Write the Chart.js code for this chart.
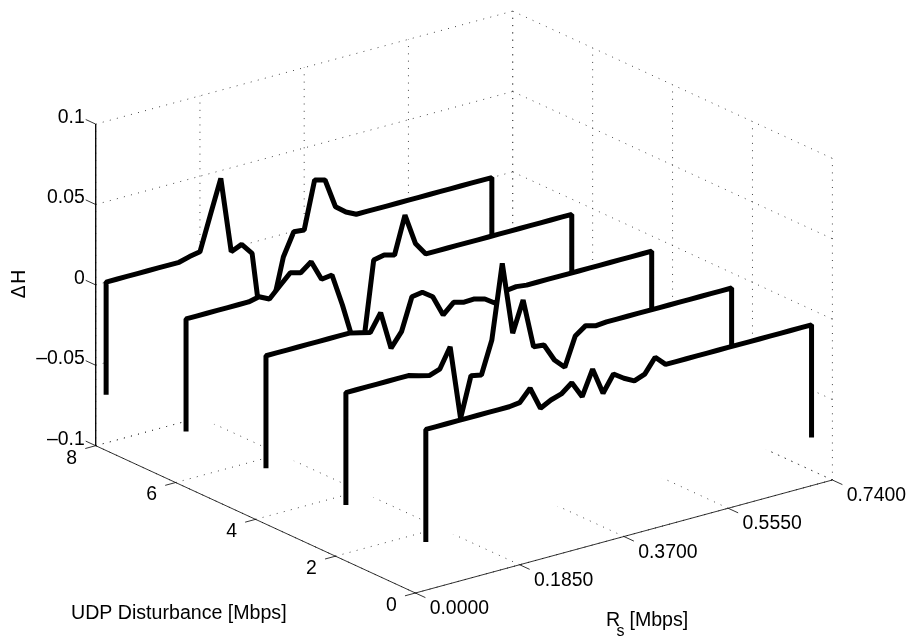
<!DOCTYPE html>
<html>
<head>
<meta charset="utf-8">
<title>Delta H waterfall</title>
<script src="https://cdn.jsdelivr.net/npm/chart.js@4"></script>
<style>
  html, body { margin: 0; padding: 0; background: #fff; }
  canvas { display: block; }
</style>
</head>
<body>
<canvas id="myChart" width="915" height="642"></canvas>
<script>
var rsValues = [0.0185, 0.037, 0.0555, 0.074, 0.0925, 0.111, 0.1295, 0.148, 0.1665, 0.185,
  0.2035, 0.222, 0.2405, 0.259, 0.2775, 0.296, 0.3145, 0.333, 0.3515, 0.37,
  0.3885, 0.407, 0.4255, 0.444, 0.4625, 0.481, 0.4995, 0.518, 0.5365, 0.555,
  0.5735, 0.592, 0.6105, 0.629, 0.6475, 0.666, 0.6845, 0.703];

var udpLevels = [0, 2, 4, 6, 8];

var dhUdp0 = [0, 0, 0, 0, 0, 0, 0, 0, 0, 0.0008,
  0.008, -0.0062, -0.0028, -0.0008, 0.0044, -0.006, 0.0093, -0.0074, 0.0028, -0.0016,
  -0.005, -0.0025, 0.0062, 0, 0, 0, 0, 0, 0, 0,
  0, 0, 0, 0, 0, 0, 0, 0];
var dhUdp2 = [0, 0, 0, 0, 0, 0, 0, -0.0018, -0.0035, -0.0013,
  0.0109, -0.0354, -0.0106, -0.0119, 0.0081, 0.054, 0.0088, 0.0277, -0.0031, -0.0038,
  -0.0149, -0.0212, -0.0035, 0.0012, -0.0006, 0, 0, 0, 0, 0,
  0, 0, 0, 0, 0, 0, 0, 0];
var dhUdp4 = [0, 0, 0, 0, 0, 0, 0, 0, 0, -0.0015,
  -0.0032, 0.0075, -0.0164, -0.0079, 0.0121, 0.0131, 0.0086, -0.0045, 0.0016, -0.0001,
  0.0002, -0.0016, -0.006, 0, 0.0008, 0, 0, 0, 0, 0,
  0, 0, 0, 0, 0, 0, 0, 0];
var dhUdp6 = [0, 0, 0, 0, 0, 0, 0, 0.0015, -0.0017, 0.0048,
  0.0111, 0.0094, 0.0145, 0.0018, 0.0027, -0.0177, -0.041, -0.046, 0.005, 0.0063,
  0.0046, 0.0277, 0.0083, 0, 0, 0, 0, 0, 0, 0,
  0, 0, 0, 0, 0, 0, 0, 0];
var dhUdp8 = [0, 0, 0, 0, 0, 0, 0, 0, 0.0018, 0.003,
  0.0242, 0.0452, -0.0022, 0.0006, -0.0067, -0.06, -0.042, -0.0143, -0.0003, -0.001,
  0.0284, 0.0266, 0.0082, 0.0032, 0, 0, 0, 0, 0, 0,
  0, 0, 0, 0, 0, 0, 0, 0];
var dhSeries = [dhUdp0, dhUdp2, dhUdp4, dhUdp6, dhUdp8];
var curtainBottom = -0.07;

var rsTicks = [0, 0.185, 0.37, 0.555, 0.74];
var rsTickLabels = ['0.0000', '0.1850', '0.3700', '0.5550', '0.7400'];
var udpTicks = [0, 2, 4, 6, 8];
var udpTickLabels = ['0', '2', '4', '6', '8'];
var dhTicks = [-0.1, -0.05, 0, 0.05, 0.1];
var dhTickLabels = ['\u20130.1', '\u20130.05', '0', '0.05', '0.1'];

// view of the box
function project(rs, udp, dh) {
  return {
    x: 415.4 + rs / 0.74 * 417 - udp / 8 * 319.7,
    y: 593 - rs / 0.74 * 113 - udp / 8 * 147.3 - (dh + 0.1) / 0.2 * 321.6
  };
}

function gridLine(a, b) {
  return {
    data: [project(a[0], a[1], a[2]), project(b[0], b[1], b[2])],
    showLine: true, fill: false, pointRadius: 0,
    borderColor: '#444', borderWidth: 1, borderDash: [1, 6.3]
  };
}

function axisLine(a, b) {
  return {
    data: [project(a[0], a[1], a[2]), project(b[0], b[1], b[2])],
    showLine: true, fill: false, pointRadius: 0,
    borderColor: '#000', borderWidth: 0.8
  };
}

var datasets = [];

// first in the list is drawn last, so front curtain comes first
udpLevels.forEach(function (udp, s) {
  var pts = [project(rsValues[0], udp, curtainBottom)];
  rsValues.forEach(function (rs, i) {
    pts.push(project(rs, udp, dhSeries[s][i]));
  });
  pts.push(project(rsValues[rsValues.length - 1], udp, curtainBottom));
  datasets.push({
    label: 'UDP ' + udp,
    data: pts,
    showLine: true, pointRadius: 0, tension: 0,
    borderColor: '#000', borderWidth: 5,
    borderJoinStyle: 'bevel', borderCapStyle: 'butt',
    backgroundColor: '#fff', fill: 'shape'
  });
});

// box axes
datasets.push(axisLine([0, 8, 0.1], [0, 8, -0.1]));
datasets.push(axisLine([0, 8, -0.1], [0, 0, -0.1]));
datasets.push(axisLine([0, 0, -0.1], [0.74, 0, -0.1]));
dhTicks.forEach(function (z) {
  datasets.push(axisLine([0, 8, z], [0, 8.25, z]));
});
udpTicks.forEach(function (u) {
  datasets.push(axisLine([0, u, -0.1], [-0.0185, u, -0.1]));
});
rsTicks.forEach(function (r) {
  datasets.push(axisLine([r, 0, -0.1], [r, -0.25, -0.1]));
});

// dotted grid on the floor and the two back walls
rsTicks.forEach(function (r) {
  datasets.push(gridLine([r, 8, -0.1], [r, 8, 0.1]));
  datasets.push(gridLine([r, 0, -0.1], [r, 8, -0.1]));
});
udpTicks.forEach(function (u) {
  datasets.push(gridLine([0.74, u, -0.1], [0.74, u, 0.1]));
  datasets.push(gridLine([0, u, -0.1], [0.74, u, -0.1]));
});
dhTicks.forEach(function (z) {
  datasets.push(gridLine([0, 8, z], [0.74, 8, z]));
  datasets.push(gridLine([0.74, 8, z], [0.74, 0, z]));
});

var FONT = '"Liberation Sans", Arial, sans-serif';

var boxLabels = {
  id: 'boxLabels',
  afterDraw: function (chart) {
    var c = chart.ctx;
    c.save();
    c.fillStyle = '#000';
    c.textBaseline = 'middle';
    c.font = '19.4px ' + FONT;

    c.textAlign = 'right';
    dhTicks.forEach(function (z, i) {
      var p = project(0, 8, z);
      c.fillText(dhTickLabels[i], p.x - 11, p.y - 6.5);
    });

    c.textAlign = 'center';
    udpTicks.forEach(function (u, i) {
      var p = project(0, u, -0.1);
      c.fillText(udpTickLabels[i], p.x - 24, p.y + 12.5);
    });

    c.textAlign = 'left';
    rsTicks.forEach(function (r, i) {
      var p = project(r, 0, -0.1);
      c.fillText(rsTickLabels[i], p.x + 14.3, p.y + 15.8);
    });

    c.font = '19.6px ' + FONT;
    c.fillText('UDP Disturbance [Mbps]', 71, 614);
    c.fillText('R', 606, 621);
    c.fillText(' [Mbps]', 624, 621);
    c.font = '16px ' + FONT;
    c.fillText('s', 616.5, 632);

    c.font = '19.4px ' + FONT;
    c.textAlign = 'center';
    c.translate(20, 284);
    c.rotate(-Math.PI / 2);
    c.fillText('\u0394\u200aH', 0, 0);
    c.restore();
  }
};

var ctx = document.getElementById('myChart').getContext('2d');
var myChart = new Chart(ctx, {
  type: 'scatter',
  data: { datasets: datasets },
  plugins: [boxLabels],
  options: {
    responsive: false,
    animation: false,
    layout: { padding: 0 },
    plugins: {
      legend: { display: false },
      tooltip: { enabled: false }
    },
    scales: {
      x: { type: 'linear', min: 0, max: 915, display: false },
      y: { type: 'linear', min: 0, max: 642, reverse: true, display: false }
    }
  }
});
</script>
</body>
</html>
